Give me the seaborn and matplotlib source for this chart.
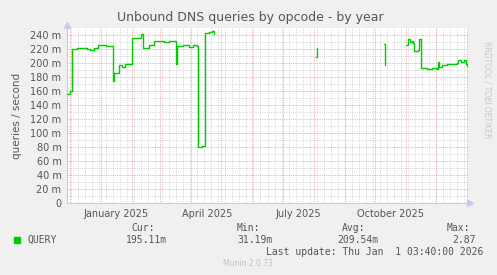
import numpy as np
import pandas as pd
import matplotlib
matplotlib.use("Agg")
import matplotlib.pyplot as plt
import seaborn as sns

# ── Data (values in milli-queries / second) ───────────────────────────────────
seg1_dates = ["2024-11-28", "2024-12-01", "2024-12-03", "2024-12-08", "2024-12-13",
              "2024-12-18", "2024-12-21", "2024-12-25", "2024-12-29", "2025-01-02",
              "2025-01-06", "2025-01-13", "2025-01-14", "2025-01-19", "2025-01-22",
              "2025-01-25", "2025-01-28", "2025-02-01", "2025-02-05", "2025-02-09",
              "2025-02-10", "2025-02-12", "2025-02-18", "2025-02-23", "2025-02-28",
              "2025-03-05", "2025-03-10", "2025-03-15", "2025-03-17", "2025-03-18",
              "2025-03-24", "2025-03-30", "2025-04-03", "2025-04-07", "2025-04-08",
              "2025-04-12", "2025-04-14", "2025-04-15", "2025-04-19", "2025-04-22",
              "2025-04-24"]
seg1_vals = [155, 160, 220, 221, 222,
             220, 219, 222, 225, 226,
             224, 174, 186, 197, 194,
             198, 199, 236, 235, 236,
             241, 222, 226, 231, 232,
             230, 232, 231, 199, 224,
             225, 223, 225, 224, 80,
             81, 82, 243, 244, 245,
             241]
seg2_dates = ["2025-08-03", "2025-08-04"]
seg2_vals = [209, 222]
seg3_dates = ["2025-10-10", "2025-10-11"]
seg3_vals = [227, 197]
seg4_dates = ["2025-11-01", "2025-11-03", "2025-11-05", "2025-11-07", "2025-11-08",
              "2025-11-09", "2025-11-13", "2025-11-14", "2025-11-16", "2025-11-22",
              "2025-11-27", "2025-12-02", "2025-12-03", "2025-12-04", "2025-12-07",
              "2025-12-12", "2025-12-17", "2025-12-22", "2025-12-23", "2025-12-26",
              "2025-12-29", "2025-12-31", "2026-01-01"]
seg4_vals = [226, 234, 230, 231, 229,
             217, 218, 234, 193, 192,
             193, 192, 201, 195, 197,
             199, 198, 200, 204, 201,
             204, 199, 196]

x_labels = ["January 2025", "April 2025", "July 2025", "October 2025"]
x_label_dates = ["2025-01-16", "2025-04-17", "2025-07-17", "2025-10-17"]
y_ticks = [0, 20, 40, 60, 80, 100, 120, 140, 160, 180, 200, 220, 240]

legend_cols = ["Cur:", "Min:", "Avg:", "Max:"]
legend_vals = ["195.11m", "31.19m", "209.54m", "2.87"]

frames = []
for i, (d, v) in enumerate([(seg1_dates, seg1_vals), (seg2_dates, seg2_vals),
                            (seg3_dates, seg3_vals), (seg4_dates, seg4_vals)]):
    frames.append(pd.DataFrame({"date": pd.to_datetime(d), "value": v, "seg": i}))
df = pd.concat(frames, ignore_index=True)

# ── Figure ────────────────────────────────────────────────────────────────────
sns.set_theme(style="white")
plt.rcParams["font.family"] = ["DejaVu Sans"]

BG = "#F0F0F0"
TXT = "#555555"
AXC = "#C8C8F0"
fig = plt.figure(figsize=(4.97, 2.75), dpi=100, facecolor=BG)
ax = fig.add_axes([67 / 497, 1 - 203 / 275, 401 / 497, 175 / 275])
ax.set_facecolor("white")

x0, x1 = pd.Timestamp("2024-11-28"), pd.Timestamp("2026-01-02")
ax.set_xlim(x0, x1)
ax.set_ylim(0, 250)

# grid: minor grey (weekly / 10m), major red (monthly / 20m)
dots = (0, (1, 1.2))
for wk in pd.date_range(x0, x1, freq="W-MON"):
    ax.axvline(wk, color="#CFCFCF", lw=0.6, ls=dots, zorder=0)
for yv in range(10, 250, 20):
    ax.axhline(yv, color="#CFCFCF", lw=0.6, ls=dots, zorder=0)
for mo in pd.date_range("2024-12-01", x1, freq="MS"):
    ax.axvline(mo, color="#E89A9A", lw=0.6, ls=dots, zorder=0)
for yv in y_ticks[1:]:
    ax.axhline(yv, color="#E89A9A", lw=0.6, ls=dots, zorder=0)

for seg, g in df.groupby("seg"):
    sns.lineplot(data=g, x="date", y="value", ax=ax, color="#00CC00",
                 lw=1.0, drawstyle="steps-post", legend=False, zorder=3)

ax.set_yticks(y_ticks)
ax.set_yticklabels(["0" if v == 0 else f"{v} m" for v in y_ticks])
ax.set_xticks(pd.to_datetime(x_label_dates))
ax.set_xticklabels(x_labels)
ax.tick_params(axis="both", labelsize=7, colors=TXT, length=0, pad=4)
ax.set_xlabel("")
ax.set_ylabel("queries / second", fontsize=7.5, color=TXT, labelpad=6)

for side in ["top", "right"]:
    ax.spines[side].set_visible(False)
for side in ["left", "bottom"]:
    ax.spines[side].set_color(AXC)
    ax.spines[side].set_linewidth(0.8)

# axis arrows
ax.plot([0], [1.015], marker="^", color=AXC, ms=4, transform=ax.transAxes, clip_on=False)
ax.plot([1.005], [0], marker=">", color=AXC, ms=4, transform=ax.transAxes, clip_on=False)

# titles & side text
fig.text(250 / 497, 1 - 18 / 275, "Unbound DNS queries by opcode - by year",
         ha="center", va="center", fontsize=9, color=TXT)
fig.text(487 / 497, 1 - 90 / 275, "RRDTOOL / TOBI OETIKER", rotation=270,
         ha="center", va="center", fontsize=5.5, color="#C8C8C8")

# legend block
mono = "DejaVu Sans Mono"
fig.patches.append(plt.Rectangle((14 / 497, 1 - 243 / 275), 6 / 497, 6 / 275,
                                 transform=fig.transFigure, color="#00CC00"))
fig.text(27 / 497, 1 - 240 / 275, "QUERY", family=mono, fontsize=7, color=TXT,
         va="center")
col_right = [155, 260, 365, 470]
val_right = [167, 273, 378, 476]
for c, v, cr, vr in zip(legend_cols, legend_vals, col_right, val_right):
    fig.text(cr / 497, 1 - 228 / 275, c, family=mono, fontsize=7, color=TXT,
             ha="right", va="center")
    fig.text(vr / 497, 1 - 240 / 275, v, family=mono, fontsize=7, color=TXT,
             ha="right", va="center")
fig.text(483 / 497, 1 - 252 / 275, "Last update: Thu Jan  1 03:40:00 2026",
         family=mono, fontsize=7, color=TXT, ha="right", va="center")
fig.text(248 / 497, 1 - 264 / 275, "Munin 2.0.73", fontsize=5.5, color="#C0C0C0",
         ha="center", va="center")

fig.savefig("out.png", dpi=100, facecolor=BG)
